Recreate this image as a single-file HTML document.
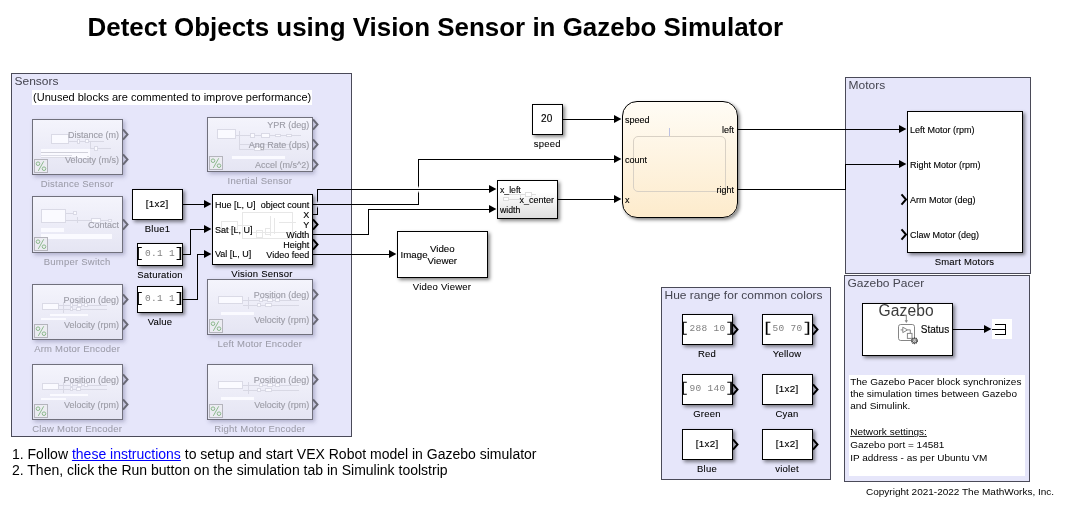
<!DOCTYPE html>
<html>
<head>
<meta charset="utf-8">
<title>Detect Objects using Vision Sensor in Gazebo Simulator</title>
<style>
html,body{margin:0;padding:0;background:#fff;}
body{width:1065px;height:510px;position:relative;overflow:hidden;font-family:"Liberation Sans",sans-serif;color:#000;}
.a{position:absolute;box-sizing:border-box;}
.t{position:absolute;white-space:nowrap;line-height:1;}
.area{position:absolute;box-sizing:border-box;background:#e6e6fa;border:1px solid #4a4a58;}
.at{position:absolute;white-space:nowrap;font-size:12px;color:#454550;line-height:1;transform-origin:0 10.16px;transform:scaleY(0.89);}
.blk{position:absolute;box-sizing:border-box;background:#fff;border:1px solid #000;box-shadow:2px 2px 3.5px rgba(0,0,0,0.48);}
.cblk{position:absolute;box-sizing:border-box;border:1px solid #70707c;background:linear-gradient(#f4f4fc,#e5e5f3);box-shadow:2px 2px 4px rgba(80,80,120,0.35);overflow:hidden;}
.lbl{position:absolute;white-space:nowrap;font-size:9.5px;letter-spacing:0.22px;line-height:1;transform:translateX(-50%);-webkit-text-stroke:0.08px currentColor;}
.clbl{color:#9b9ba7;-webkit-text-stroke:0.05px currentColor;}
.pt{position:absolute;white-space:nowrap;font-size:9px;line-height:1;-webkit-text-stroke:0.12px currentColor;}
.cpt{color:#9c9ca6;font-size:9px;}
.pct{position:absolute;box-sizing:border-box;border:1px solid #a9c3a9;background:#f3f6f3;color:#6aa56a;font-size:12px;line-height:11px;text-align:center;overflow:hidden;}
.mono{position:absolute;white-space:pre;font-family:"Liberation Mono",monospace;color:#808080;font-size:9.5px;letter-spacing:0.3px;line-height:1;}
.note{position:absolute;box-sizing:border-box;background:#fff;}
.w{position:absolute;background:#fafaff;}
</style>
</head>
<body>
<div id="root" style="position:absolute;left:0;top:0;width:1065px;height:510px;will-change:transform;">

<div class="t" style="left:87.5px;top:14.7px;font-size:25.95px;font-weight:bold;">Detect Objects using Vision Sensor in Gazebo Simulator</div>
<div class="area" style="left:11px;top:73px;width:341px;height:364px;"></div>
<div class="at" style="left:14.5px;top:74.64px;">Sensors</div>
<div class="area" style="left:845px;top:77px;width:186px;height:197px;"></div>
<div class="at" style="left:848.5px;top:78.64px;">Motors</div>
<div class="area" style="left:844px;top:275px;width:186px;height:207px;"></div>
<div class="at" style="left:847.5px;top:276.64px;">Gazebo Pacer</div>
<div class="area" style="left:661px;top:287px;width:170px;height:193px;"></div>
<div class="at" style="left:664.5px;top:288.64px;">Hue range for common colors</div>
<div class="note" style="left:32px;top:90px;width:280px;height:15px;"></div>
<div class="t" style="left:33.1px;top:91.6px;font-size:11px;transform-origin:0 9.3px;transform:scaleY(0.93);">(Unused blocks are commented to improve performance)</div>
<div class="cblk" style="left:32px;top:119px;width:91px;height:56px;"><div class="w" style="left:18px;top:14px;width:18px;height:10px;border:1px solid #dadae6;box-sizing:border-box;"></div><div class="a" style="left:36px;top:21px;width:35px;height:1px;background:#d8d8e4;"></div><div class="w" style="left:44px;top:19px;width:3px;height:5px;border:1px solid #dadae6;box-sizing:border-box;"></div><div class="w" style="left:52px;top:19px;width:4px;height:4px;border:1px solid #dadae6;box-sizing:border-box;"></div><div class="a" style="left:57px;top:21px;width:1px;height:8px;background:#d8d8e4;"></div><div class="a" style="left:57px;top:28px;width:21px;height:1px;background:#d8d8e4;"></div><div class="w" style="left:61px;top:26px;width:4px;height:5px;border:1px solid #dadae6;box-sizing:border-box;"></div><div class="w" style="left:8px;top:29px;width:49px;height:9px;"></div><div class="a" style="left:8px;top:32px;width:47px;height:1px;background:#d0d0da;"></div><div class="a" style="left:8px;top:35px;width:31px;height:1px;background:#dcdce6;"></div><div class="a" style="left:8px;top:37px;width:37px;height:1px;background:#dcdce6;"></div><svg class="a" style="left:1px;top:39px;" width="14" height="14" viewBox="0 0 14 14"><rect x="0.5" y="0.5" width="13" height="13" fill="#ececf2" stroke="#b4b4bc" stroke-width="1"/><g fill="none" stroke="#7cb07c" stroke-width="0.85"><circle cx="4.0" cy="4.7" r="1.8"/><circle cx="10.0" cy="9.7" r="1.8"/><path d="M9.7 2.3L4.3 11.9"/></g></svg></div>
<div class="cblk" style="left:32px;top:196px;width:91px;height:57px;"><div class="w" style="left:8px;top:12px;width:25px;height:14px;border:1px solid #dadae6;box-sizing:border-box;"></div><div class="a" style="left:33px;top:16px;width:8px;height:1px;background:#d8d8e4;"></div><div class="w" style="left:40px;top:14px;width:4px;height:4px;border:1px solid #dadae6;box-sizing:border-box;"></div><div class="a" style="left:33px;top:23px;width:46px;height:1px;background:#d8d8e4;"></div><div class="a" style="left:44px;top:20px;width:1px;height:6px;background:#d8d8e4;"></div><div class="w" style="left:58px;top:21px;width:10px;height:5px;border:1px solid #dadae6;box-sizing:border-box;"></div><div class="w" style="left:75px;top:22px;width:4px;height:3px;border:1px solid #dadae6;box-sizing:border-box;"></div><div class="w" style="left:8px;top:31px;width:23px;height:4px;"></div><div class="w" style="left:8px;top:37px;width:71px;height:5px;"></div><svg class="a" style="left:1px;top:40px;" width="14" height="14" viewBox="0 0 14 14"><rect x="0.5" y="0.5" width="13" height="13" fill="#ececf2" stroke="#b4b4bc" stroke-width="1"/><g fill="none" stroke="#7cb07c" stroke-width="0.85"><circle cx="4.0" cy="4.7" r="1.8"/><circle cx="10.0" cy="9.7" r="1.8"/><path d="M9.7 2.3L4.3 11.9"/></g></svg></div>
<div class="cblk" style="left:32px;top:284px;width:91px;height:56px;"><div class="w" style="left:9px;top:18px;width:17px;height:7px;border:1px solid #dadae6;box-sizing:border-box;"></div><div class="a" style="left:26px;top:20px;width:48px;height:1px;background:#d8d8e4;"></div><div class="a" style="left:26px;top:24px;width:48px;height:1px;background:#d8d8e4;"></div><div class="a" style="left:30px;top:17px;width:1px;height:11px;background:#d8d8e4;"></div><div class="w" style="left:37px;top:18px;width:3px;height:4px;border:1px solid #dadae6;box-sizing:border-box;"></div><div class="w" style="left:44px;top:18px;width:5px;height:4px;border:1px solid #dadae6;box-sizing:border-box;"></div><div class="w" style="left:51px;top:18px;width:4px;height:4px;border:1px solid #dadae6;box-sizing:border-box;"></div><div class="w" style="left:37px;top:22px;width:3px;height:4px;border:1px solid #dadae6;box-sizing:border-box;"></div><div class="w" style="left:43px;top:22px;width:5px;height:4px;border:1px solid #dadae6;box-sizing:border-box;"></div><div class="w" style="left:17px;top:29px;width:38px;height:2px;"></div><div class="w" style="left:8px;top:33px;width:25px;height:2px;"></div><svg class="a" style="left:1px;top:39px;" width="14" height="14" viewBox="0 0 14 14"><rect x="0.5" y="0.5" width="13" height="13" fill="#ececf2" stroke="#b4b4bc" stroke-width="1"/><g fill="none" stroke="#7cb07c" stroke-width="0.85"><circle cx="4.0" cy="4.7" r="1.8"/><circle cx="10.0" cy="9.7" r="1.8"/><path d="M9.7 2.3L4.3 11.9"/></g></svg></div>
<div class="cblk" style="left:32px;top:364px;width:91px;height:56px;"><div class="w" style="left:9px;top:18px;width:17px;height:7px;border:1px solid #dadae6;box-sizing:border-box;"></div><div class="a" style="left:26px;top:20px;width:48px;height:1px;background:#d8d8e4;"></div><div class="a" style="left:26px;top:24px;width:48px;height:1px;background:#d8d8e4;"></div><div class="a" style="left:30px;top:17px;width:1px;height:11px;background:#d8d8e4;"></div><div class="w" style="left:37px;top:18px;width:3px;height:4px;border:1px solid #dadae6;box-sizing:border-box;"></div><div class="w" style="left:44px;top:18px;width:5px;height:4px;border:1px solid #dadae6;box-sizing:border-box;"></div><div class="w" style="left:51px;top:18px;width:4px;height:4px;border:1px solid #dadae6;box-sizing:border-box;"></div><div class="w" style="left:37px;top:22px;width:3px;height:4px;border:1px solid #dadae6;box-sizing:border-box;"></div><div class="w" style="left:43px;top:22px;width:5px;height:4px;border:1px solid #dadae6;box-sizing:border-box;"></div><div class="w" style="left:17px;top:29px;width:38px;height:2px;"></div><div class="w" style="left:8px;top:33px;width:25px;height:2px;"></div><svg class="a" style="left:1px;top:39px;" width="14" height="14" viewBox="0 0 14 14"><rect x="0.5" y="0.5" width="13" height="13" fill="#ececf2" stroke="#b4b4bc" stroke-width="1"/><g fill="none" stroke="#7cb07c" stroke-width="0.85"><circle cx="4.0" cy="4.7" r="1.8"/><circle cx="10.0" cy="9.7" r="1.8"/><path d="M9.7 2.3L4.3 11.9"/></g></svg></div>
<div class="cblk" style="left:207px;top:279px;width:106px;height:56px;"><div class="w" style="left:10px;top:16px;width:25px;height:8px;border:1px solid #dadae6;box-sizing:border-box;"></div><div class="a" style="left:35px;top:20px;width:56px;height:1px;background:#d8d8e4;"></div><div class="a" style="left:35px;top:25px;width:56px;height:1px;background:#d8d8e4;"></div><div class="a" style="left:40px;top:17px;width:1px;height:12px;background:#d8d8e4;"></div><div class="w" style="left:51px;top:18px;width:4px;height:4px;border:1px solid #dadae6;box-sizing:border-box;"></div><div class="w" style="left:59px;top:18px;width:6px;height:4px;border:1px solid #dadae6;box-sizing:border-box;"></div><div class="w" style="left:67px;top:18px;width:5px;height:4px;border:1px solid #dadae6;box-sizing:border-box;"></div><div class="w" style="left:49px;top:23px;width:4px;height:4px;border:1px solid #dadae6;box-sizing:border-box;"></div><div class="w" style="left:57px;top:23px;width:7px;height:4px;border:1px solid #dadae6;box-sizing:border-box;"></div><div class="w" style="left:13px;top:32px;width:33px;height:3px;"></div><svg class="a" style="left:1px;top:39px;" width="14" height="14" viewBox="0 0 14 14"><rect x="0.5" y="0.5" width="13" height="13" fill="#ececf2" stroke="#b4b4bc" stroke-width="1"/><g fill="none" stroke="#7cb07c" stroke-width="0.85"><circle cx="4.0" cy="4.7" r="1.8"/><circle cx="10.0" cy="9.7" r="1.8"/><path d="M9.7 2.3L4.3 11.9"/></g></svg></div>
<div class="cblk" style="left:207px;top:364px;width:106px;height:56px;"><div class="w" style="left:10px;top:16px;width:25px;height:8px;border:1px solid #dadae6;box-sizing:border-box;"></div><div class="a" style="left:35px;top:20px;width:56px;height:1px;background:#d8d8e4;"></div><div class="a" style="left:35px;top:25px;width:56px;height:1px;background:#d8d8e4;"></div><div class="a" style="left:40px;top:17px;width:1px;height:12px;background:#d8d8e4;"></div><div class="w" style="left:51px;top:18px;width:4px;height:4px;border:1px solid #dadae6;box-sizing:border-box;"></div><div class="w" style="left:59px;top:18px;width:6px;height:4px;border:1px solid #dadae6;box-sizing:border-box;"></div><div class="w" style="left:67px;top:18px;width:5px;height:4px;border:1px solid #dadae6;box-sizing:border-box;"></div><div class="w" style="left:49px;top:23px;width:4px;height:4px;border:1px solid #dadae6;box-sizing:border-box;"></div><div class="w" style="left:57px;top:23px;width:7px;height:4px;border:1px solid #dadae6;box-sizing:border-box;"></div><div class="w" style="left:13px;top:32px;width:33px;height:3px;"></div><svg class="a" style="left:1px;top:39px;" width="14" height="14" viewBox="0 0 14 14"><rect x="0.5" y="0.5" width="13" height="13" fill="#ececf2" stroke="#b4b4bc" stroke-width="1"/><g fill="none" stroke="#7cb07c" stroke-width="0.85"><circle cx="4.0" cy="4.7" r="1.8"/><circle cx="10.0" cy="9.7" r="1.8"/><path d="M9.7 2.3L4.3 11.9"/></g></svg></div>
<div class="cblk" style="left:207px;top:117px;width:106px;height:55px;"><div class="w" style="left:9px;top:11px;width:19px;height:10px;border:1px solid #dadae6;box-sizing:border-box;"></div><div class="a" style="left:28px;top:17px;width:65px;height:1px;background:#d8d8e4;"></div><div class="a" style="left:31px;top:13px;width:1px;height:19px;background:#d8d8e4;"></div><div class="w" style="left:42px;top:15px;width:5px;height:5px;border:1px solid #dadae6;box-sizing:border-box;"></div><div class="w" style="left:53px;top:15px;width:9px;height:5px;border:1px solid #dadae6;box-sizing:border-box;"></div><div class="w" style="left:67px;top:16px;width:6px;height:3px;border:1px solid #dadae6;box-sizing:border-box;"></div><div class="w" style="left:78px;top:16px;width:6px;height:3px;border:1px solid #dadae6;box-sizing:border-box;"></div><div class="a" style="left:31px;top:26px;width:52px;height:1px;background:#d8d8e4;"></div><div class="a" style="left:31px;top:31px;width:52px;height:1px;background:#d8d8e4;"></div><div class="w" style="left:46px;top:28px;width:10px;height:5px;border:1px solid #dadae6;box-sizing:border-box;"></div><div class="w" style="left:24px;top:38px;width:53px;height:3px;"></div><svg class="a" style="left:1px;top:38px;" width="14" height="14" viewBox="0 0 14 14"><rect x="0.5" y="0.5" width="13" height="13" fill="#ececf2" stroke="#b4b4bc" stroke-width="1"/><g fill="none" stroke="#7cb07c" stroke-width="0.85"><circle cx="4.0" cy="4.7" r="1.8"/><circle cx="10.0" cy="9.7" r="1.8"/><path d="M9.7 2.3L4.3 11.9"/></g></svg></div>
<div class="lbl clbl" style="left:77.2px;top:178.8px;">Distance Sensor</div>
<div class="lbl clbl" style="left:77.2px;top:256.8px;">Bumper Switch</div>
<div class="lbl clbl" style="left:77.2px;top:343.8px;">Arm Motor Encoder</div>
<div class="lbl clbl" style="left:77.2px;top:423.8px;">Claw Motor Encoder</div>
<div class="lbl clbl" style="left:259.8px;top:175.8px;">Inertial Sensor</div>
<div class="lbl clbl" style="left:259.8px;top:338.8px;">Left Motor Encoder</div>
<div class="lbl clbl" style="left:259.8px;top:423.8px;">Right Motor Encoder</div>
<div class="pt cpt" style="right:946px;top:130.8px;">Distance (m)</div>
<div class="pt cpt" style="right:946px;top:155.8px;">Velocity (m/s)</div>
<div class="pt cpt" style="right:946px;top:220.8px;">Contact</div>
<div class="pt cpt" style="right:946px;top:295.8px;">Position (deg)</div>
<div class="pt cpt" style="right:946px;top:320.8px;">Velocity (rpm)</div>
<div class="pt cpt" style="right:946px;top:375.8px;">Position (deg)</div>
<div class="pt cpt" style="right:946px;top:400.8px;">Velocity (rpm)</div>
<div class="pt cpt" style="right:755.7px;top:120.8px;">YPR (deg)</div>
<div class="pt cpt" style="right:755.7px;top:140.8px;">Ang Rate (dps)</div>
<div class="pt cpt" style="right:755.7px;top:160.8px;">Accel (m/s^2)</div>
<div class="pt cpt" style="right:755.7px;top:290.8px;">Position (deg)</div>
<div class="pt cpt" style="right:755.7px;top:315.8px;">Velocity (rpm)</div>
<div class="pt cpt" style="right:755.7px;top:375.8px;">Position (deg)</div>
<div class="pt cpt" style="right:755.7px;top:400.8px;">Velocity (rpm)</div>
<div class="blk" style="left:132px;top:189px;width:51px;height:31px;"></div>
<div class="t" style="left:157.2px;top:198.7px;font-size:9.8px;letter-spacing:0.35px;transform:translateX(-50%);-webkit-text-stroke:0.15px #000;">[1x2]</div>
<div class="lbl" style="left:157.5px;top:223.8px;">Blue1</div>
<div class="blk" style="left:137px;top:243px;width:46px;height:23px;"></div>
<div class="lbl" style="left:160px;top:269.8px;">Saturation</div>
<div class="blk" style="left:137px;top:286px;width:46px;height:27px;"></div>
<div class="lbl" style="left:160px;top:316.8px;">Value</div>
<div class="mono" style="left:145px;top:249px;">0.1 1</div>
<div class="mono" style="left:145px;top:294px;">0.1 1</div>
<div class="blk" style="left:212px;top:194px;width:101px;height:71px;"></div>
<div class="lbl" style="left:262px;top:268.8px;">Vision Sensor</div>
<svg class="a" style="left:213px;top:195px;" width="100" height="69" viewBox="213 195 100 69" fill="none" stroke="#e7e7e7" stroke-width="1" shape-rendering="crispEdges"><rect x="242.5" y="212.5" width="50" height="26"/><rect x="221.5" y="221.5" width="16" height="8"/><path d="M237.5 225.5H252M244.5 232.5H290M270.5 216V236M274.5 218V234M278.5 222.5H296"/><rect x="256.5" y="230.5" width="6" height="7"/><rect x="265.5" y="228.5" width="5" height="6"/></svg>
<div class="pt" style="left:215px;top:200.6px;font-size:9px;">Hue [L, U]</div>
<div class="pt" style="left:215px;top:225.6px;font-size:9px;">Sat [L, U]</div>
<div class="pt" style="left:215px;top:250.1px;font-size:9px;">Val [L, U]</div>
<div class="pt" style="right:755.8px;top:200.6px;font-size:9px;">object count</div>
<div class="pt" style="right:755.8px;top:210.6px;font-size:9px;">X</div>
<div class="pt" style="right:755.8px;top:220.6px;font-size:9px;">Y</div>
<div class="pt" style="right:755.8px;top:230.6px;font-size:9px;">Width</div>
<div class="pt" style="right:755.8px;top:240.6px;font-size:9px;">Height</div>
<div class="pt" style="right:755.8px;top:250.6px;font-size:9px;">Video feed</div>
<div class="blk" style="left:532px;top:104px;width:31px;height:31px;"></div>
<div class="t" style="left:546.7px;top:113.6px;font-size:10px;letter-spacing:0.2px;transform:translateX(-50%);-webkit-text-stroke:0.15px #000;">20</div>
<div class="lbl" style="left:547.3px;top:138.8px;">speed</div>
<div class="blk" style="left:497px;top:180px;width:61px;height:39px;background:linear-gradient(#ffffff 30%,#dedede);"></div>
<svg class="a" style="left:498px;top:181px;" width="59" height="37" viewBox="498 181 59 37" fill="none" stroke="#dedede" stroke-width="1" shape-rendering="crispEdges"><path d="M504 194.5H536M504 199.5H520M520.5 194V200"/><rect x="503.5" y="197.5" width="5" height="3" fill="#fff"/><rect x="525.5" y="192.5" width="6" height="4" fill="#fff"/></svg>
<div class="pt" style="left:500px;top:185.8px;font-size:8.7px;">x_left</div>
<div class="pt" style="left:500px;top:205.8px;font-size:8.7px;">width</div>
<div class="pt" style="right:511px;top:195.6px;font-size:9px;">x_center</div>
<div class="blk" style="left:397px;top:231px;width:91px;height:47px;"></div>
<div class="lbl" style="left:442.0px;top:281.8px;">Video Viewer</div>
<div class="pt" style="left:400.6px;top:249.8px;font-size:9.7px;">Image</div>
<div class="pt" style="left:442.3px;top:243.0px;font-size:9.7px;line-height:12.1px;text-align:center;transform:translateX(-50%);">Video<br>Viewer</div>
<div class="a" style="left:622px;top:101px;width:116px;height:117px;border:1px solid #000;border-radius:15px;background:linear-gradient(#fffcf5,#fdebcc);box-shadow:2px 2px 3.5px rgba(0,0,0,0.48);"></div>
<div class="a" style="left:633px;top:136px;width:93px;height:56px;border:1px solid #d9d1c5;border-radius:5px;"></div>
<div class="a" style="left:669px;top:128px;width:1px;height:8px;background:#bcc1e2;"></div>
<div class="pt" style="left:625px;top:115.6px;font-size:9px;">speed</div>
<div class="pt" style="left:625px;top:155.6px;font-size:9px;">count</div>
<div class="pt" style="left:625px;top:195.6px;font-size:9px;">x</div>
<div class="pt" style="right:331px;top:125.6px;font-size:9px;">left</div>
<div class="pt" style="right:331px;top:185.6px;font-size:9px;">right</div>
<div class="blk" style="left:907px;top:111px;width:116px;height:142px;"></div>
<div class="lbl" style="left:964.5px;top:256.8px;">Smart Motors</div>
<div class="pt" style="left:910px;top:125.6px;font-size:9px;">Left Motor (rpm)</div>
<div class="pt" style="left:910px;top:160.6px;font-size:9px;">Right Motor (rpm)</div>
<div class="pt" style="left:910px;top:195.6px;font-size:9px;">Arm Motor (deg)</div>
<div class="pt" style="left:910px;top:230.6px;font-size:9px;">Claw Motor (deg)</div>
<div class="blk" style="left:862px;top:303px;width:91px;height:53px;"></div>
<div class="t" style="left:878.6px;top:303px;font-size:15.6px;letter-spacing:0.1px;color:#3c3c3c;">Gazebo</div>
<div class="pt" style="left:920.8px;top:325.2px;font-size:10px;">Status</div>
<div class="note" style="left:992px;top:319px;width:20px;height:20px;"></div>
<div class="note" style="left:849px;top:375px;width:176px;height:101px;"></div>
<div class="t" style="left:850.2px;top:377.13px;font-size:10px;transform-origin:0 8.47px;transform:scaleY(0.88);">The Gazebo Pacer block synchronizes</div>
<div class="t" style="left:850.2px;top:389.03px;font-size:10px;transform-origin:0 8.47px;transform:scaleY(0.88);">the simulation times between Gazebo</div>
<div class="t" style="left:850.2px;top:401.13px;font-size:10px;transform-origin:0 8.47px;transform:scaleY(0.88);">and Simulink.</div>
<div class="t" style="left:850.2px;top:427.13px;font-size:10px;transform-origin:0 8.47px;transform:scaleY(0.88);"><span style="text-decoration:underline;">Network settings:</span></div>
<div class="t" style="left:850.2px;top:440.13px;font-size:10px;transform-origin:0 8.47px;transform:scaleY(0.88);">Gazebo port = 14581</div>
<div class="t" style="left:850.2px;top:453.03px;font-size:10px;transform-origin:0 8.47px;transform:scaleY(0.88);">IP address - as per Ubuntu VM</div>
<div class="blk" style="left:682px;top:314px;width:51px;height:31px;"></div>
<div class="blk" style="left:682px;top:374px;width:51px;height:31px;"></div>
<div class="blk" style="left:682px;top:429px;width:51px;height:31px;"></div>
<div class="blk" style="left:762px;top:314px;width:51px;height:31px;"></div>
<div class="blk" style="left:762px;top:374px;width:51px;height:31px;"></div>
<div class="blk" style="left:762px;top:429px;width:51px;height:31px;"></div>
<div class="lbl" style="left:707.0px;top:348.8px;">Red</div>
<div class="lbl" style="left:787.0px;top:348.8px;">Yellow</div>
<div class="lbl" style="left:707.0px;top:408.8px;">Green</div>
<div class="lbl" style="left:787.0px;top:408.8px;">Cyan</div>
<div class="lbl" style="left:707.0px;top:463.8px;">Blue</div>
<div class="lbl" style="left:787.0px;top:463.8px;">violet</div>
<div class="t" style="left:787.2px;top:383.7px;font-size:9.8px;letter-spacing:0.35px;transform:translateX(-50%);-webkit-text-stroke:0.15px #000;">[1x2]</div>
<div class="t" style="left:707.2px;top:438.7px;font-size:9.8px;letter-spacing:0.35px;transform:translateX(-50%);-webkit-text-stroke:0.15px #000;">[1x2]</div>
<div class="t" style="left:787.2px;top:438.7px;font-size:9.8px;letter-spacing:0.35px;transform:translateX(-50%);-webkit-text-stroke:0.15px #000;">[1x2]</div>
<div class="mono" style="left:689.5px;top:324px;">288 10</div>
<div class="mono" style="left:772.5px;top:324px;">50 70</div>
<div class="mono" style="left:689.5px;top:384px;">90 140</div>
<div class="t" style="left:12px;top:447px;font-size:14px;">1. Follow <span style="color:#0000ff;text-decoration:underline;">these instructions</span> to setup and start VEX Robot model in Gazebo simulator</div>
<div class="t" style="left:12px;top:463px;font-size:14px;">2. Then, click the Run button on the simulation tab in Simulink toolstrip</div>
<div class="t" style="left:866px;top:487px;font-size:10px;transform-origin:0 8.47px;transform:scaleY(0.93);">Copyright 2021-2022 The MathWorks, Inc.</div>
<svg class="a" style="left:0;top:0;" width="1065" height="510" viewBox="0 0 1065 510"><path d="M183 204.5 L206 204.5" fill="none" stroke="#000" stroke-width="1" shape-rendering="crispEdges"/>
<path d="M211.4 204.0 L204 200.0 L204 208.0 Z" fill="#000" stroke="none"/>
<path d="M183 254.5 L190.5 254.5 L190.5 229.5 L206 229.5" fill="none" stroke="#000" stroke-width="1" shape-rendering="crispEdges"/>
<path d="M211.4 229.0 L204 225.0 L204 233.0 Z" fill="#000" stroke="none"/>
<path d="M183 299.5 L197.5 299.5 L197.5 254.5 L206 254.5" fill="none" stroke="#000" stroke-width="1" shape-rendering="crispEdges"/>
<path d="M211.4 254.0 L204 250.0 L204 258.0 Z" fill="#000" stroke="none"/>
<path d="M313 204.5 L418.5 204.5 L418.5 159.5 L616 159.5" fill="none" stroke="#000" stroke-width="1" shape-rendering="crispEdges"/>
<path d="M621.4 159.0 L614 155.0 L614 163.0 Z" fill="#000" stroke="none"/>
<path d="M313 214.5 L317.5 214.5 L317.5 189.5 L491 189.5" fill="none" stroke="#000" stroke-width="1" shape-rendering="crispEdges"/>
<path d="M496.4 189.0 L489 185.0 L489 193.0 Z" fill="#000" stroke="none"/>
<path d="M313 234.5 L368.5 234.5 L368.5 209.5 L491 209.5" fill="none" stroke="#000" stroke-width="1" shape-rendering="crispEdges"/>
<path d="M496.4 209.0 L489 205.0 L489 213.0 Z" fill="#000" stroke="none"/>
<path d="M313 254.5 L391 254.5" fill="none" stroke="#000" stroke-width="1" shape-rendering="crispEdges"/>
<path d="M396.4 254.0 L389 250.0 L389 258.0 Z" fill="#000" stroke="none"/>
<path d="M563 119.5 L616 119.5" fill="none" stroke="#000" stroke-width="1" shape-rendering="crispEdges"/>
<path d="M621.4 119.0 L614 115.0 L614 123.0 Z" fill="#000" stroke="none"/>
<path d="M558 199.5 L616 199.5" fill="none" stroke="#000" stroke-width="1" shape-rendering="crispEdges"/>
<path d="M621.4 199.0 L614 195.0 L614 203.0 Z" fill="#000" stroke="none"/>
<path d="M738 129.5 L901 129.5" fill="none" stroke="#000" stroke-width="1" shape-rendering="crispEdges"/>
<path d="M906.4 129.0 L899 125.0 L899 133.0 Z" fill="#000" stroke="none"/>
<path d="M738 189.5 L845.5 189.5 L845.5 164.5 L901 164.5" fill="none" stroke="#000" stroke-width="1" shape-rendering="crispEdges"/>
<path d="M906.4 164.0 L899 160.0 L899 168.0 Z" fill="#000" stroke="none"/>
<path d="M953 329.5 L986 329.5" fill="none" stroke="#000" stroke-width="1" shape-rendering="crispEdges"/>
<path d="M991.4 329.0 L984 325.0 L984 333.0 Z" fill="#000" stroke="none"/>
<rect x="418" y="186" width="1" height="1" fill="#ffffff" fill-opacity="0.35" shape-rendering="crispEdges"/>
<rect x="418" y="187" width="1" height="1" fill="#ffffff" fill-opacity="0.75" shape-rendering="crispEdges"/>
<rect x="418" y="188" width="1" height="1" fill="#ffffff" fill-opacity="1" shape-rendering="crispEdges"/>
<rect x="418" y="190" width="1" height="1" fill="#ffffff" fill-opacity="1" shape-rendering="crispEdges"/>
<rect x="418" y="191" width="1" height="1" fill="#ffffff" fill-opacity="0.75" shape-rendering="crispEdges"/>
<rect x="418" y="192" width="1" height="1" fill="#ffffff" fill-opacity="0.35" shape-rendering="crispEdges"/>
<rect x="317" y="201" width="1" height="1" fill="#e6e6fa" fill-opacity="0.35" shape-rendering="crispEdges"/>
<rect x="317" y="202" width="1" height="1" fill="#e6e6fa" fill-opacity="0.75" shape-rendering="crispEdges"/>
<rect x="317" y="203" width="1" height="1" fill="#e6e6fa" fill-opacity="1" shape-rendering="crispEdges"/>
<rect x="317" y="205" width="1" height="1" fill="#e6e6fa" fill-opacity="1" shape-rendering="crispEdges"/>
<rect x="317" y="206" width="1" height="1" fill="#e6e6fa" fill-opacity="0.75" shape-rendering="crispEdges"/>
<rect x="317" y="207" width="1" height="1" fill="#e6e6fa" fill-opacity="0.35" shape-rendering="crispEdges"/>
<path d="M123 129.3 L127.5 134.5 L123 139.7" fill="none" stroke="#6a6a76" stroke-width="2.0" stroke-linejoin="miter"/>
<path d="M123 154.3 L127.5 159.5 L123 164.7" fill="none" stroke="#6a6a76" stroke-width="2.0" stroke-linejoin="miter"/>
<path d="M123 219.3 L127.5 224.5 L123 229.7" fill="none" stroke="#6a6a76" stroke-width="2.0" stroke-linejoin="miter"/>
<path d="M123 294.3 L127.5 299.5 L123 304.7" fill="none" stroke="#6a6a76" stroke-width="2.0" stroke-linejoin="miter"/>
<path d="M123 319.3 L127.5 324.5 L123 329.7" fill="none" stroke="#6a6a76" stroke-width="2.0" stroke-linejoin="miter"/>
<path d="M123 374.3 L127.5 379.5 L123 384.7" fill="none" stroke="#6a6a76" stroke-width="2.0" stroke-linejoin="miter"/>
<path d="M123 399.3 L127.5 404.5 L123 409.7" fill="none" stroke="#6a6a76" stroke-width="2.0" stroke-linejoin="miter"/>
<path d="M313 119.3 L317.5 124.5 L313 129.7" fill="none" stroke="#6a6a76" stroke-width="2.0" stroke-linejoin="miter"/>
<path d="M313 139.3 L317.5 144.5 L313 149.7" fill="none" stroke="#6a6a76" stroke-width="2.0" stroke-linejoin="miter"/>
<path d="M313 159.3 L317.5 164.5 L313 169.7" fill="none" stroke="#6a6a76" stroke-width="2.0" stroke-linejoin="miter"/>
<path d="M313 289.3 L317.5 294.5 L313 299.7" fill="none" stroke="#6a6a76" stroke-width="2.0" stroke-linejoin="miter"/>
<path d="M313 314.3 L317.5 319.5 L313 324.7" fill="none" stroke="#6a6a76" stroke-width="2.0" stroke-linejoin="miter"/>
<path d="M313 374.3 L317.5 379.5 L313 384.7" fill="none" stroke="#6a6a76" stroke-width="2.0" stroke-linejoin="miter"/>
<path d="M313 399.3 L317.5 404.5 L313 409.7" fill="none" stroke="#6a6a76" stroke-width="2.0" stroke-linejoin="miter"/>
<path d="M313 219.3 L317.5 224.5 L313 229.7" fill="none" stroke="#000" stroke-width="2.0" stroke-linejoin="miter"/>
<path d="M313 239.3 L317.5 244.5 L313 249.7" fill="none" stroke="#000" stroke-width="2.0" stroke-linejoin="miter"/>
<path d="M733 324.3 L737.5 329.5 L733 334.7" fill="none" stroke="#000" stroke-width="2.0" stroke-linejoin="miter"/>
<path d="M733 384.3 L737.5 389.5 L733 394.7" fill="none" stroke="#000" stroke-width="2.0" stroke-linejoin="miter"/>
<path d="M733 439.3 L737.5 444.5 L733 449.7" fill="none" stroke="#000" stroke-width="2.0" stroke-linejoin="miter"/>
<path d="M813 324.3 L817.5 329.5 L813 334.7" fill="none" stroke="#000" stroke-width="2.0" stroke-linejoin="miter"/>
<path d="M813 384.3 L817.5 389.5 L813 394.7" fill="none" stroke="#000" stroke-width="2.0" stroke-linejoin="miter"/>
<path d="M813 439.3 L817.5 444.5 L813 449.7" fill="none" stroke="#000" stroke-width="2.0" stroke-linejoin="miter"/>
<path d="M901.5 194.3 L906.0 199.5 L901.5 204.7" fill="none" stroke="#000" stroke-width="2.0" stroke-linejoin="miter"/>
<path d="M901.5 229.3 L906.0 234.5 L901.5 239.7" fill="none" stroke="#000" stroke-width="2.0" stroke-linejoin="miter"/>
<path d="M138.04999999999998 247.5V259.5" fill="none" stroke="#000" stroke-width="1.7"/>
<path d="M137.2 247.5H141.79999999999998M137.2 259.5H141.79999999999998" fill="none" stroke="#000" stroke-width="1.1"/>
<path d="M180.35 247.5V259.5" fill="none" stroke="#000" stroke-width="1.7"/>
<path d="M181.2 247.5H176.6M181.2 259.5H176.6" fill="none" stroke="#000" stroke-width="1.1"/>
<path d="M138.04999999999998 292.5V304.5" fill="none" stroke="#000" stroke-width="1.7"/>
<path d="M137.2 292.5H141.79999999999998M137.2 304.5H141.79999999999998" fill="none" stroke="#000" stroke-width="1.1"/>
<path d="M180.35 292.5V304.5" fill="none" stroke="#000" stroke-width="1.7"/>
<path d="M181.2 292.5H176.6M181.2 304.5H176.6" fill="none" stroke="#000" stroke-width="1.1"/>
<path d="M683.0500000000001 322.3V334.3" fill="none" stroke="#000" stroke-width="1.7"/>
<path d="M682.2 322.3H686.8000000000001M682.2 334.3H686.8000000000001" fill="none" stroke="#000" stroke-width="1.1"/>
<path d="M731.05 322.3V334.3" fill="none" stroke="#000" stroke-width="1.7"/>
<path d="M731.9 322.3H727.3M731.9 334.3H727.3" fill="none" stroke="#000" stroke-width="1.1"/>
<path d="M766.65 322.3V334.3" fill="none" stroke="#000" stroke-width="1.7"/>
<path d="M765.8 322.3H770.4M765.8 334.3H770.4" fill="none" stroke="#000" stroke-width="1.1"/>
<path d="M808.35 322.3V334.3" fill="none" stroke="#000" stroke-width="1.7"/>
<path d="M809.2 322.3H804.6M809.2 334.3H804.6" fill="none" stroke="#000" stroke-width="1.1"/>
<path d="M683.0500000000001 382.3V394.3" fill="none" stroke="#000" stroke-width="1.7"/>
<path d="M682.2 382.3H686.8000000000001M682.2 394.3H686.8000000000001" fill="none" stroke="#000" stroke-width="1.1"/>
<path d="M731.05 382.3V394.3" fill="none" stroke="#000" stroke-width="1.7"/>
<path d="M731.9 382.3H727.3M731.9 394.3H727.3" fill="none" stroke="#000" stroke-width="1.1"/>
<path d="M992 329.5H1005M995 324.5H1005.5V334.5H995" fill="none" stroke="#000" stroke-width="1" shape-rendering="crispEdges"/>
<g fill="none" stroke="#858585" stroke-width="1"><path d="M904.2 315.6H906.3V321"/><path d="M904.6 320.2H908L906.3 323Z" fill="#858585" stroke="none"/><rect x="898.5" y="324.5" width="16" height="16" rx="2.2" fill="#fff"/><path d="M902.8 327.2L907.6 329.9L902.8 332.6ZM900.6 329.9H902.8M907.6 329.9H910.3V333.3"/><rect x="907.4" y="333.4" width="4.6" height="5" fill="#fff"/></g>
<circle cx="914.5" cy="340.7" r="2.7" fill="#fff" stroke="#3c3c3c" stroke-width="1.6" stroke-dasharray="1.1 0.6"/><circle cx="914.5" cy="340.7" r="2.2" fill="none" stroke="#4a4a4a" stroke-width="0.7"/><circle cx="914.5" cy="340.7" r="0.9" fill="none" stroke="#4a4a4a" stroke-width="0.6"/></svg>
</div>
</body>
</html>
